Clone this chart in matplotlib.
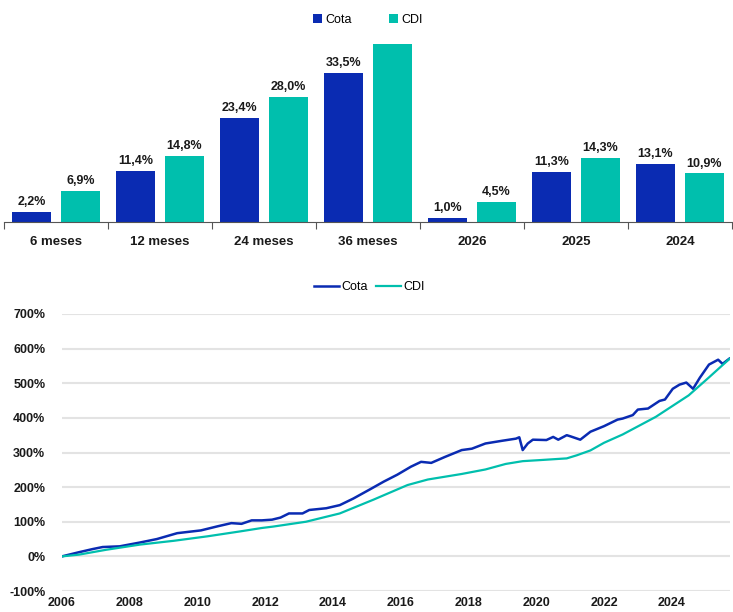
import matplotlib
matplotlib.use("Agg")
import matplotlib.pyplot as plt
import numpy as np

plt.rcParams["font.family"] = ["Liberation Sans Narrow", "Liberation Sans", "DejaVu Sans"]
BLUE = "#0A2BB2"; TEAL = "#00BFAD"; TXT = "#1A1A1A"; GRID = "#E3E3E3"

# --- barras: rentabilidade por janela
periods = ["6 meses", "12 meses", "24 meses", "36 meses", "2026", "2025", "2024"]
cota_ret = [2.2, 11.4, 23.4, 33.5, 1.0, 11.3, 13.1]
cdi_ret = [6.9, 14.8, 28.0, 40.0, 4.5, 14.3, 10.9]
cdi_lbl = ["6,9%", "14,8%", "28,0%", "", "4,5%", "14,3%", "10,9%"]

# --- linha: rentabilidade acumulada (%)
cota_t = [2006.0, 2006.5, 2006.9, 2007.2, 2007.7, 2008.3, 2008.8, 2009.4, 2010.1, 2010.6,
          2011.0, 2011.3, 2011.6, 2011.9, 2012.2, 2012.45, 2012.7, 2013.1, 2013.3, 2013.8,
          2014.2, 2014.6, 2015.1, 2015.5, 2015.9, 2016.3, 2016.6, 2016.9, 2017.3, 2017.6,
          2017.8, 2018.1, 2018.5, 2019.0, 2019.4, 2019.5, 2019.6, 2019.75, 2019.9, 2020.3,
          2020.5, 2020.65, 2020.9, 2021.0, 2021.3, 2021.6, 2022.0, 2022.4, 2022.55, 2022.85,
          2023.0, 2023.3, 2023.64, 2023.8, 2024.03, 2024.23, 2024.43, 2024.63, 2024.83, 2025.1,
          2025.37, 2025.5, 2025.7]
cota_v = [0, 12, 21, 27, 29, 40, 50, 67, 75, 87,
          96, 94, 104, 104, 106, 112, 124, 124, 134, 139,
          148, 167, 194, 216, 236, 259, 273, 270, 287, 299,
          307, 311, 326, 334, 340, 344, 307, 326, 337, 336,
          345, 337, 350, 347, 337, 360, 376, 395, 398, 408,
          424, 427, 449, 453, 484, 496, 502, 484, 516, 554,
          568, 556, 571]
cdi_t = [2006.0, 2006.5, 2007.3, 2008.3, 2009.3, 2010.3, 2011.25, 2011.9, 2012.23, 2013.2,
         2014.2, 2015.2, 2016.2, 2016.8, 2017.8, 2018.5, 2019.1, 2019.6, 2020.1, 2020.9,
         2021.2, 2021.6, 2022.0, 2022.55, 2023.53, 2024.5, 2025.1, 2025.7]
cdi_v = [0, 5, 19, 34, 45, 58, 72, 82, 86, 100,
         124, 164, 206, 222, 238, 251, 267, 275, 278, 283,
         292, 306, 328, 352, 403, 465, 517, 570]
years = list(range(2006, 2025, 2))
yticks = list(range(-100, 701, 100))

fig = plt.figure(figsize=(7.33, 6.12), dpi=100)

# ---------------- barras
ax = fig.add_axes([4/733, 390/612, 728/733, 187/612])
x = np.arange(len(periods)); off = .235; w = .38
ax.bar(x - off, cota_ret, w, color=BLUE, label="Cota")
ax.bar(x + off, cdi_ret, w, color=TEAL, label="CDI")
for i in range(len(periods)):
    ax.annotate(f"{cota_ret[i]:.1f}%".replace(".", ","), (x[i] - off, cota_ret[i]), textcoords="offset points",
                xytext=(0, 5), ha="center", fontsize=9, fontweight="bold", color=TXT)
    if cdi_lbl[i]:
        ax.annotate(cdi_lbl[i], (x[i] + off, cdi_ret[i]), textcoords="offset points",
                    xytext=(0, 5), ha="center", fontsize=9, fontweight="bold", color=TXT)
ax.set_xlim(-.5, len(periods) - .5); ax.set_ylim(0, 42)
ax.set_xticks(x); ax.set_xticklabels(periods, fontsize=9.5, fontweight="bold", color=TXT)
ax.set_xticks(np.arange(-.5, len(periods)), minor=True)
ax.tick_params(axis="x", which="major", length=0, pad=10)
ax.tick_params(axis="x", which="minor", length=5, color="#555", width=.8)
ax.set_yticks([])
for s in ["top", "right", "left"]:
    ax.spines[s].set_visible(False)
ax.spines["bottom"].set_color("#555"); ax.spines["bottom"].set_linewidth(.8)
ax.legend(loc="upper center", bbox_to_anchor=(0.5, 1.175), ncol=2, frameon=False, fontsize=9,
          handlelength=.7, handleheight=.7, columnspacing=3, handletextpad=.3)

# ---------------- linha
bx = fig.add_axes([62/733, 21/612, 668/733, 277/612])
bx.plot(cota_t, cota_v, color=BLUE, lw=1.8, label="Cota")
bx.plot(cdi_t, cdi_v, color=TEAL, lw=1.6, label="CDI")
bx.set_xlim(2006, 2025.72); bx.set_ylim(-100, 700)
bx.set_yticks(yticks); bx.set_yticklabels([f"{v}%" for v in yticks], fontsize=9, fontweight="bold", color=TXT)
bx.set_xticks(years); bx.set_xticklabels([str(y) for y in years], fontsize=9, fontweight="bold", color=TXT)
bx.tick_params(length=0)
bx.tick_params(axis="y", pad=12); bx.tick_params(axis="x", pad=4)
bx.grid(axis="y", color=GRID, lw=1.5); bx.set_axisbelow(True)
for s in bx.spines.values():
    s.set_visible(False)
bx.legend(loc="upper center", bbox_to_anchor=(0.46, 1.16), ncol=2, frameon=False, fontsize=9,
          handlelength=2, columnspacing=.6, handletextpad=.2)

fig.savefig("out.png", dpi=100)
